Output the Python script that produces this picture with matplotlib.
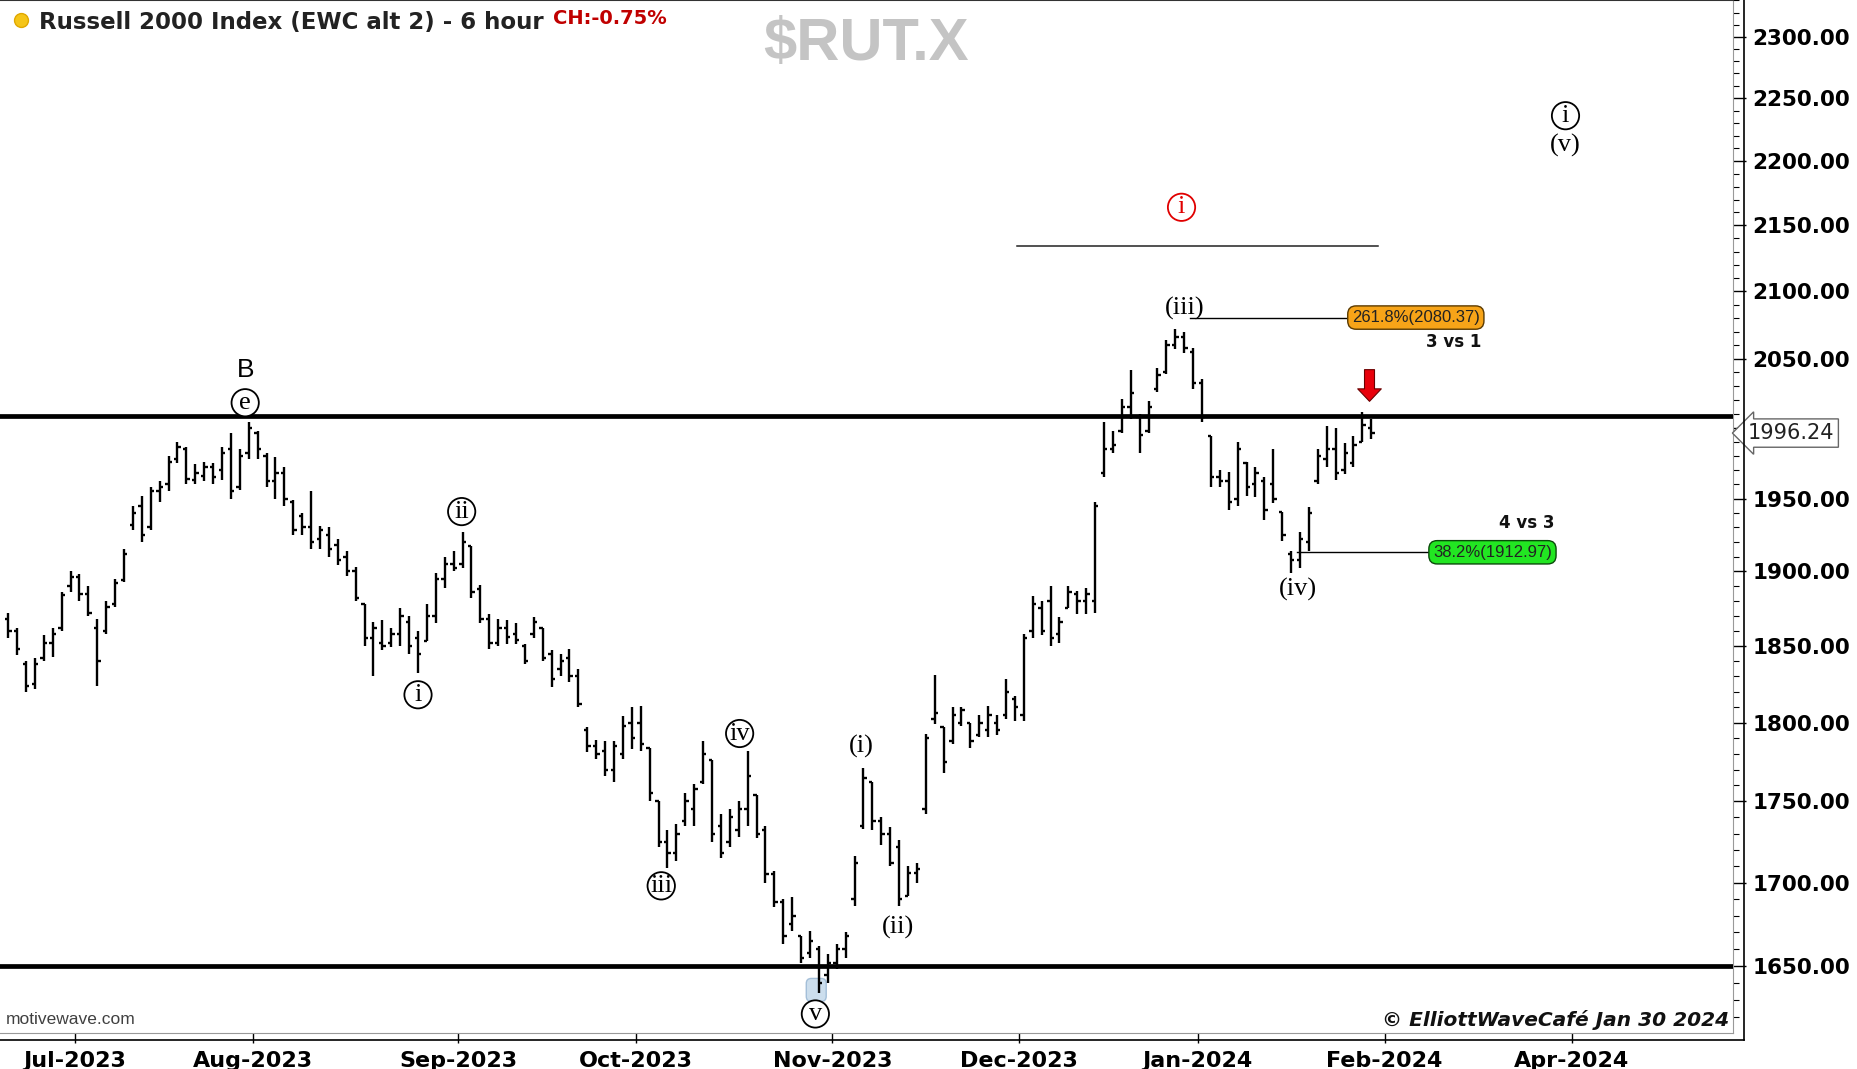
import matplotlib
matplotlib.use('Agg')
import matplotlib.pyplot as plt
import matplotlib.transforms as mtransforms
from matplotlib.collections import LineCollection
from matplotlib.lines import Line2D
from matplotlib.patches import FancyBboxPatch
from matplotlib.ticker import FixedLocator, NullFormatter
import numpy as np
import pandas as pd

# sessions on the chart, one bar per trading day
holidays = ['2023-07-04', '2023-09-04', '2023-11-23', '2023-12-25',
            '2024-01-01', '2024-01-15']
dates = pd.bdate_range('2023-06-21', '2024-01-30', freq='C', holidays=holidays)

opens = [
    1868, 1860, 1838, 1825, 1842, 1852, 1862, 1890, 1896, 1885,
    1862, 1860, 1878, 1894, 1932, 1945, 1930, 1955, 1960, 1978,
    1985, 1963, 1966, 1972, 1970, 1985, 1958, 1982, 1996, 1980,
    1962, 1968, 1948, 1938, 1930, 1922, 1925, 1918, 1910, 1900,
    1878, 1855, 1852, 1852, 1858, 1866, 1855, 1853, 1870, 1895,
    1905, 1905, 1917, 1888, 1868, 1852, 1862, 1858, 1850, 1858,
    1862, 1845, 1835, 1842, 1830, 1795, 1785, 1782, 1770, 1780,
    1800, 1800, 1784, 1750, 1725, 1718, 1738, 1745, 1762, 1776,
    1735, 1725, 1732, 1745, 1754, 1732, 1705, 1688, 1675, 1668,
    1658, 1660, 1645, 1652, 1660, 1690, 1735, 1762, 1738, 1730,
    1722, 1692, 1706, 1745, 1802, 1797, 1788, 1800, 1800, 1792,
    1795, 1800, 1805, 1815, 1805, 1860, 1875, 1880, 1858, 1875,
    1885, 1880, 1880, 1968, 1985, 1998, 2015, 2008, 1998, 2028,
    2040, 2060, 2066, 2055, 2032, 1994, 1965, 1962, 1950, 1975,
    1960, 1962, 1960, 1941, 1912, 1908, 1920, 1962, 1978, 1985,
    1970, 1975, 1990, 2000]
highs = [
    1872, 1862, 1840, 1842, 1857, 1862, 1886, 1900, 1898, 1890,
    1868, 1880, 1895, 1915, 1945, 1952, 1958, 1962, 1980, 1990,
    1986, 1974, 1976, 1975, 1986, 1996, 1985, 2004, 1998, 1982,
    1979, 1972, 1949, 1940, 1955, 1931, 1930, 1922, 1914, 1903,
    1878, 1866, 1867, 1862, 1875, 1870, 1860, 1878, 1899, 1910,
    1914, 1927, 1917, 1891, 1871, 1868, 1867, 1865, 1851, 1869,
    1862, 1847, 1845, 1848, 1835, 1797, 1789, 1788, 1788, 1804,
    1810, 1811, 1784, 1750, 1732, 1736, 1755, 1761, 1788, 1776,
    1742, 1745, 1750, 1782, 1754, 1735, 1707, 1690, 1691, 1668,
    1671, 1662, 1657, 1663, 1670, 1716, 1771, 1762, 1740, 1734,
    1726, 1710, 1712, 1793, 1831, 1797, 1810, 1810, 1800, 1805,
    1811, 1805, 1828, 1817, 1858, 1883, 1880, 1890, 1869, 1890,
    1887, 1889, 1948, 2004, 1998, 2021, 2042, 2010, 2019, 2043,
    2064, 2072, 2070, 2058, 2035, 1994, 1970, 1969, 1990, 1976,
    1972, 1965, 1985, 1941, 1914, 1927, 1944, 1985, 2001, 2000,
    1989, 1994, 2011, 2006]
lows = [
    1855, 1844, 1820, 1822, 1840, 1843, 1860, 1886, 1880, 1870,
    1824, 1858, 1876, 1893, 1928, 1920, 1928, 1948, 1955, 1975,
    1960, 1960, 1962, 1960, 1963, 1950, 1956, 1978, 1978, 1958,
    1950, 1945, 1925, 1925, 1915, 1915, 1910, 1904, 1897, 1880,
    1850, 1830, 1847, 1849, 1850, 1845, 1832, 1853, 1865, 1889,
    1900, 1902, 1882, 1865, 1848, 1850, 1851, 1851, 1838, 1855,
    1840, 1823, 1830, 1826, 1810, 1781, 1777, 1766, 1762, 1777,
    1783, 1782, 1750, 1722, 1709, 1713, 1735, 1735, 1761, 1725,
    1715, 1722, 1728, 1735, 1727, 1700, 1685, 1663, 1671, 1652,
    1655, 1634, 1640, 1648, 1655, 1686, 1733, 1732, 1723, 1710,
    1686, 1692, 1700, 1742, 1799, 1768, 1786, 1798, 1784, 1791,
    1791, 1792, 1802, 1801, 1801, 1855, 1857, 1850, 1852, 1875,
    1871, 1871, 1872, 1965, 1982, 1996, 2006, 1982, 1996, 2026,
    2039, 2057, 2054, 2028, 2004, 1958, 1958, 1942, 1945, 1952,
    1951, 1935, 1947, 1921, 1899, 1902, 1914, 1960, 1972, 1963,
    1967, 1972, 1990, 1992]
closes = [
    1860, 1848, 1824, 1838, 1852, 1858, 1884, 1896, 1885, 1872,
    1840, 1876, 1892, 1912, 1940, 1925, 1955, 1958, 1976, 1986,
    1964, 1968, 1972, 1965, 1982, 1955, 1980, 2000, 1985, 1962,
    1968, 1950, 1928, 1930, 1920, 1928, 1915, 1908, 1900, 1882,
    1855, 1862, 1850, 1858, 1870, 1850, 1845, 1870, 1895, 1905,
    1902, 1920, 1886, 1868, 1852, 1862, 1856, 1854, 1840, 1866,
    1842, 1828, 1840, 1830, 1812, 1785, 1780, 1770, 1785, 1798,
    1790, 1786, 1755, 1725, 1718, 1730, 1750, 1758, 1780, 1730,
    1718, 1740, 1745, 1766, 1730, 1705, 1688, 1668, 1680, 1655,
    1665, 1640, 1652, 1660, 1668, 1712, 1765, 1738, 1730, 1712,
    1690, 1706, 1708, 1790, 1806, 1775, 1805, 1808, 1788, 1800,
    1805, 1795, 1820, 1810, 1855, 1878, 1860, 1855, 1866, 1886,
    1880, 1885, 1945, 1985, 1988, 2015, 2025, 1995, 2015, 2038,
    2060, 2066, 2058, 2032, 2008, 1965, 1962, 1948, 1985, 1958,
    1968, 1942, 1950, 1925, 1908, 1922, 1940, 1980, 1985, 1968,
    1982, 1988, 2002, 1996.24]

month_labels = ['Jul-2023', 'Aug-2023', 'Sep-2023', 'Oct-2023', 'Nov-2023',
                'Dec-2023', 'Jan-2024', 'Feb-2024', 'Apr-2024']
price_ticks = [1650, 1700, 1750, 1800, 1850, 1900, 1950, 2000,
               2050, 2100, 2150, 2200, 2250, 2300]
last_price = 1996.24
support = 1650
resistance = 2008.8
fib_ext = 2080.37
fib_ret = 1912.97
channel_top = 2134

# wave labels: (text, bar position, price, circled, colour)
waves = [
    ('e', 27.1, 2018, True, 'black'),
    ('i', 46.5, 1818, True, 'black'),
    ('ii', 51.4, 1941, True, 'black'),
    ('iii', 73.8, 1698, True, 'black'),
    ('iv', 82.6, 1793, True, 'black'),
    ('v', 91.1, 1622, True, 'black'),
    ('(i)', 96.3, 1785, False, 'black'),
    ('(ii)', 100.4, 1673, False, 'black'),
    ('(iii)', 132.5, 2087, False, 'black'),
    ('(iv)', 145.3, 1888, False, 'black'),
    ('i', 132.2, 2164, True, '#e00000'),
    ('i', 175.3, 2236, True, 'black'),
    ('(v)', 175.3, 2212, False, 'black'),
]

W, H = 1857, 1069
fig = plt.figure(figsize=(W / 100, H / 100), dpi=100)
ax = fig.add_axes([0, 36 / H, 1733 / W, 1033 / H])
ax.set_yscale('log')
ax.set_ylim(1611, 2330.4)
ax.set_xlim(-0.42, 194.1)

# bars
n = len(dates)
xs = np.arange(n) + 0.5
segs = []
for x, o, h, l, c in zip(xs, opens, highs, lows, closes):
    segs += [[(x, l), (x, h)], [(x - 0.38, o), (x, o)], [(x, c), (x + 0.38, c)]]
ax.add_collection(LineCollection(segs, colors='black', linewidths=1.7,
                                 capstyle='butt', zorder=4))

ax.axhline(resistance, color='black', lw=3.4, zorder=3)
ax.axhline(support, color='black', lw=3.4, zorder=3)
ax.plot([113.7, 154.2], [channel_top] * 2, color='#222222', lw=1.1)
ax.plot([133.2, 151.4], [fib_ext] * 2, color='black', lw=1)
ax.plot([145.2, 160.5], [fib_ret] * 2, color='black', lw=1)

ax.text(158.5, fib_ext, '261.8%(2080.37)', ha='center', va='center',
        fontsize=12, family='Liberation Sans', color='#222222', zorder=6,
        bbox=dict(boxstyle='round,pad=0.25,rounding_size=0.5',
                  fc='#f7a418', ec='#5a3a00', lw=1))
ax.text(167.1, fib_ret, '38.2%(1912.97)', ha='center', va='center',
        fontsize=12, family='Liberation Sans', color='#222222', zorder=6,
        bbox=dict(boxstyle='round,pad=0.25,rounding_size=0.5',
                  fc='#22e622', ec='#0a4a0a', lw=1))
ax.text(162.8, 2062, '3 vs 1', ha='center', va='center', fontsize=12,
        fontweight='bold', family='DejaVu Sans', color='#111111')
ax.text(170.9, 1933, '4 vs 3', ha='center', va='center', fontsize=12,
        fontweight='bold', family='DejaVu Sans', color='#111111')

# red arrow at the retest
ax.annotate('', xy=(153.3, 2019), xytext=(153.3, 2042),
            arrowprops=dict(arrowstyle='simple,head_length=0.45,head_width=0.85,tail_width=0.36',
                            mutation_scale=20, fc='#e8000b', ec='#6b0000', lw=0.8,
                            shrinkA=0, shrinkB=0), zorder=7)

# highlight box around the low
hl = fig.dpi_scale_trans + mtransforms.ScaledTranslation(91.2, 1636, ax.transData)
ax.add_patch(FancyBboxPatch((-0.1, -0.115), 0.2, 0.23,
                            boxstyle='round,pad=0,rounding_size=0.05',
                            transform=hl, fc='#bcd3e8', ec='#8fb0cf', lw=1,
                            alpha=0.75, zorder=3.5))

ax.text(27.1, 2042, 'B', ha='center', va='center', fontsize=19,
        family='Liberation Sans', color='black', zorder=6)
for s, x, y, circ, col in waves:
    bb = None
    size = 19
    if circ:
        bb = dict(boxstyle='circle,pad=0.1', fc='white', ec=col, lw=1.3)
        size = 19
    ax.text(x, y, s, ha='center', va='center', fontsize=size,
            family='Liberation Serif', color=col, bbox=bb, zorder=6)

# axes
all_days = dates.append(pd.bdate_range(dates[-1] + pd.Timedelta(days=1), periods=30))
month_pos = [i for i in range(1, len(all_days)) if all_days[i].month != all_days[i - 1].month]
ax.set_xticks(month_pos)
ax.set_xticklabels(month_labels, fontsize=16, fontweight='bold', family='DejaVu Sans')
ax.tick_params(axis='x', direction='out', length=7, width=1, pad=6, colors='black')

ax.yaxis.tick_right()
ax.yaxis.set_major_locator(FixedLocator(price_ticks))
ax.yaxis.set_minor_locator(FixedLocator(np.arange(1620, 2331, 10)))
ax.yaxis.set_minor_formatter(NullFormatter())
ax.set_yticklabels(['' if v == 2000 else f'{v:.2f}' for v in price_ticks],
                   fontsize=15.5, fontweight='bold', family='DejaVu Sans')
ax.tick_params(axis='y', which='major', direction='out', length=9, width=1, pad=5)
ax.tick_params(axis='y', which='minor', direction='out', length=4, width=0.8)

ax.spines['left'].set_visible(False)
ax.spines['top'].set_color('#333333')
ax.spines['top'].set_linewidth(1.5)
ax.spines['right'].set_color('#999999')
ax.spines['bottom'].set_color('#999999')
fig.add_artist(Line2D([1744 / W, 1744 / W], [1 - 1040 / H, 1], color='black', lw=1.2))
fig.add_artist(Line2D([0, 1744 / W], [1 - 1040 / H] * 2, color='black', lw=1.2))

trans = mtransforms.blended_transform_factory(ax.transAxes, ax.transData)
ax.text(1.0085, last_price, f'{last_price:.2f}', transform=trans, ha='left',
        va='center', fontsize=15, family='DejaVu Sans', color='#222222',
        clip_on=False, zorder=10,
        bbox=dict(boxstyle='larrow,pad=0.2', fc='white', ec='#666666', lw=1))

# header and footer
fig.add_artist(Line2D([21 / W], [1 - 20 / H], marker='o', ms=10, color='#f5c518',
                      mec='#e0a800', lw=0))
fig.text(39 / W, 1 - 22 / H, 'Russell 2000 Index (EWC alt 2) - 6 hour', ha='left',
         va='center', fontsize=16.5, fontweight='bold', family='DejaVu Sans',
         color='#222222')
fig.text(553 / W, 1 - 19 / H, 'CH:-0.75%', ha='left', va='center', fontsize=14,
         fontweight='bold', family='DejaVu Sans', color='#c00000')
fig.text(866 / W, 1 - 44 / H, '$RUT.X', ha='center', va='center', fontsize=43,
         fontweight='bold', family='Liberation Sans', color='#c4c4c4')
fig.text(6 / W, 1 - 1020 / H, 'motivewave.com', ha='left', va='center',
         fontsize=12.5, family='Liberation Sans', color='#404040')
fig.text(1729 / W, 1 - 1020 / H, '\u00a9 ElliottWaveCaf\u00e9 Jan 30 2024', ha='right',
         va='center', fontsize=14.5, fontweight='bold', fontstyle='italic',
         family='DejaVu Sans', color='#111111')

fig.savefig('out.png', dpi=100)
